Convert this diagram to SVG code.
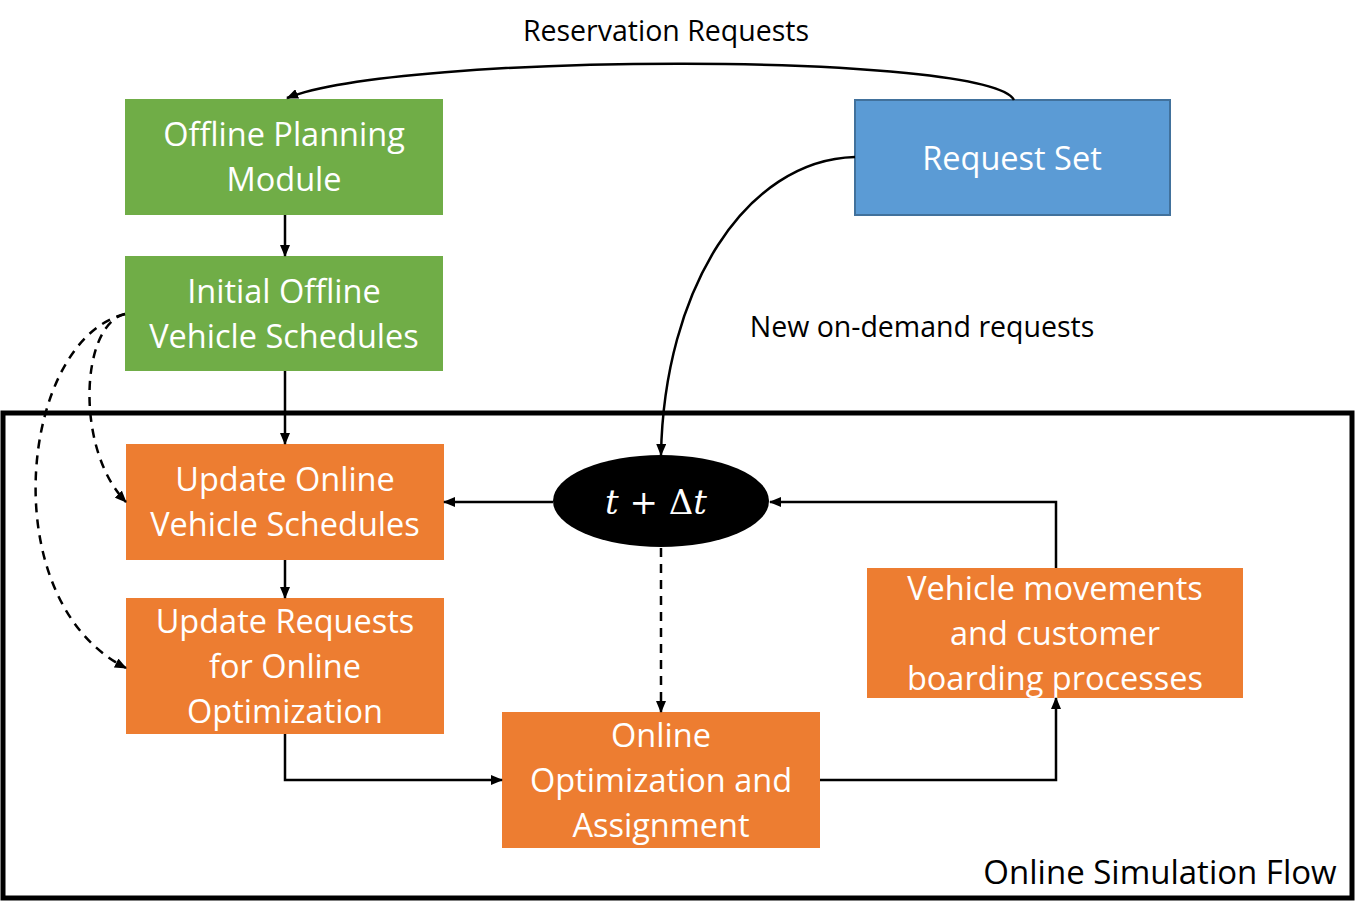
<svg xmlns="http://www.w3.org/2000/svg" width="1360" height="916" viewBox="0 0 1360 916">
<defs>
<marker id="ah" markerWidth="12" markerHeight="10" refX="11" refY="5" orient="auto" markerUnits="userSpaceOnUse">
<path d="M0,0 L12,5 L0,10 Z" fill="#000"/>
</marker>
<style>
.node text{font-family:"Open Sans","Noto Sans",sans-serif;font-size:32.5px;fill:#fff;text-anchor:middle}
.green{fill:#70AD47}
.orange{fill:#ED7D31}
.blue{fill:#5B9BD5;stroke:#41719C;stroke-width:2}
.lbl{font-family:"Open Sans","Noto Sans",sans-serif;fill:#000}
.c{fill:none;stroke:#000;stroke-width:2.5}
.d{stroke-dasharray:9,7}
</style>
</defs>
<rect width="1360" height="916" fill="#fff"/>
<rect id="frame" x="3" y="413" width="1349" height="485" fill="none" stroke="#000" stroke-width="5"/>
<g id="offline-planning" class="node"><rect class="green" x="125" y="99" width="318" height="116"/><text x="284" y="146">Offline Planning</text><text x="284" y="191">Module</text></g>
<g id="initial-schedules" class="node"><rect class="green" x="125" y="256" width="318" height="115"/><text x="284" y="303">Initial Offline</text><text x="284" y="348">Vehicle Schedules</text></g>
<g id="request-set" class="node"><rect class="blue" x="855" y="100" width="315" height="115"/><text x="1012" y="170">Request Set</text></g>
<g id="update-online" class="node"><rect class="orange" x="126" y="444" width="318" height="116"/><text x="285" y="491">Update Online</text><text x="285" y="536">Vehicle Schedules</text></g>
<g id="update-requests" class="node"><rect class="orange" x="126" y="598" width="318" height="136"/><text x="285" y="633">Update Requests</text><text x="285" y="678">for Online</text><text x="285" y="723">Optimization</text></g>
<g id="online-opt" class="node"><rect class="orange" x="502" y="712" width="318" height="136"/><text x="661" y="747">Online</text><text x="661" y="792">Optimization and</text><text x="661" y="837">Assignment</text></g>
<g id="vehicle-movements" class="node"><rect class="orange" x="867" y="568" width="376" height="130"/><text x="1055" y="600">Vehicle movements</text><text x="1055" y="645">and customer</text><text x="1055" y="690">boarding processes</text></g>
<g id="time-step" class="node"><ellipse cx="661" cy="501" rx="108" ry="46" fill="#000"/><text x="656" y="514" style="font-family:'DejaVu Serif','Liberation Serif',serif;font-size:34px"><tspan font-style="italic">t</tspan> + Δ<tspan font-style="italic">t</tspan></text></g>
<g id="connectors">
<path class="c" d="M1014,100 C990,52 400,52 287,98" marker-end="url(#ah)"/>
<path class="c" d="M285,215 L285,256" marker-end="url(#ah)"/>
<path class="c" d="M285,371 L285,444" marker-end="url(#ah)"/>
<path class="c" d="M855,157 C745,160 664,290 661,455" marker-end="url(#ah)"/>
<path class="c" d="M553,502 L444,502" marker-end="url(#ah)"/>
<path class="c d" d="M661,548 L661,712" marker-end="url(#ah)"/>
<path class="c" d="M285,560 L285,598" marker-end="url(#ah)"/>
<path class="c" d="M285,734 L285,780 L502,780" marker-end="url(#ah)"/>
<path class="c" d="M820,780 L1056,780 L1056,698" marker-end="url(#ah)"/>
<path class="c" d="M1056,568 L1056,502 L770,502" marker-end="url(#ah)"/>
<path class="c d" d="M125,314 C80,325 75,450 126,502" marker-end="url(#ah)"/>
<path class="c d" d="M125,314 C20,340 -8,600 126,668" marker-end="url(#ah)"/>
</g>
<text class="lbl" x="666" y="41" font-size="28.5" text-anchor="middle">Reservation Requests</text>
<text class="lbl" x="922" y="337" font-size="28.5" text-anchor="middle">New on-demand requests</text>
<text class="lbl" x="1160" y="884" font-size="33" text-anchor="middle">Online Simulation Flow</text>
</svg>
